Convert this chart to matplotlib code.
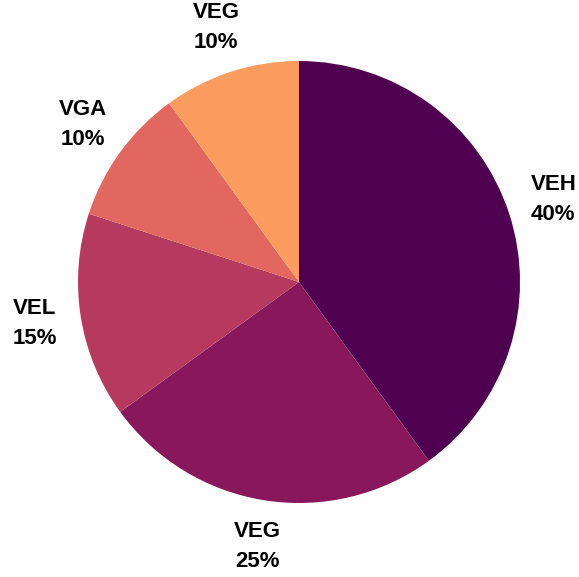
import matplotlib.pyplot as plt

# data
names = ['VEH', 'VEG', 'VEL', 'VGA', 'VEG']
shares = [40, 25, 15, 10, 10]
colors = ['#500050', '#88185b', '#b63a5f', '#e1675f', '#f99c5d']

labels = [f"{n}\n{s}%" for n, s in zip(names, shares)]

fig = plt.figure(figsize=(5.79, 5.77), dpi=100)
ax = fig.add_axes([0, 0, 1, 1])

ax.pie(shares, labels=labels, colors=colors, startangle=90, counterclock=False,
       labeldistance=1.21,
       textprops={'ha': 'center', 'va': 'center', 'fontsize': 16,
                  'fontweight': 'bold', 'family': 'Liberation Sans',
                  'linespacing': 1.55})

# put the pie where the original sits (radius ~221 px)
r = 221
ax.set_aspect('auto')
ax.set_xlim(-299 / r, (579 - 299) / r)
ax.set_ylim(-(577 - 282) / r, 282 / r)
ax.axis('off')

fig.savefig('out.png', dpi=100)
